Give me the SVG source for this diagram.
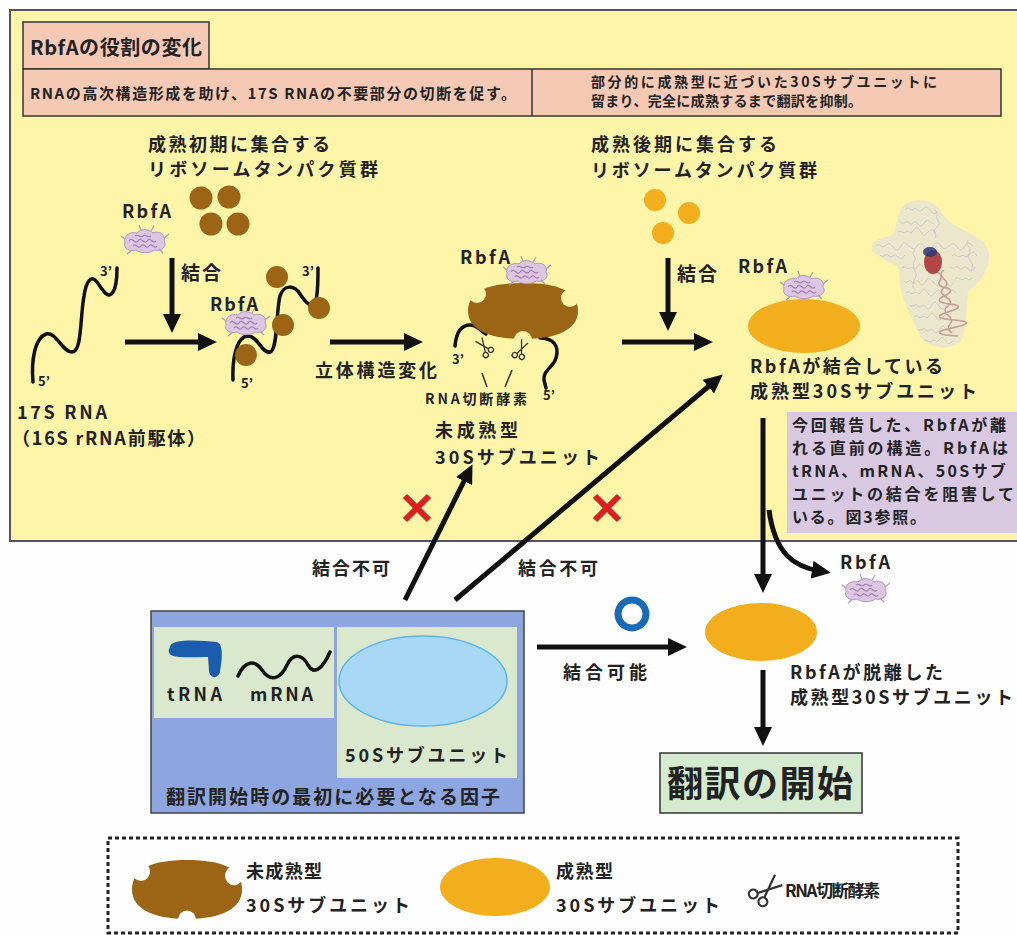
<svg xmlns="http://www.w3.org/2000/svg" xmlns:xlink="http://www.w3.org/1999/xlink" width="1017" height="935" viewBox="0 0 1017 935">
  <style>
    .t { font-family: "Noto Sans CJK JP", "Noto Sans", sans-serif; font-weight: 700; fill: #222; }
    .small { font-size: 13px; }
    .arrow { fill: none; stroke: #111; stroke-width: 5; marker-end: url(#head); }
    .rna { fill: none; stroke: #111; stroke-width: 3.5; stroke-linecap: round; }
    .brown { fill: #9c6415; }
    .gold { fill: #f2ae1d; }
    .cross { stroke: #d91f1f; stroke-width: 6; stroke-linecap: butt; }
  </style>
  <defs>
    <marker id="head" markerUnits="userSpaceOnUse" markerWidth="20" markerHeight="18" refX="8" refY="9" orient="auto">
      <path d="M0,0 L19,9 L0,18 Z" fill="#111"/>
    </marker>
    <!-- bites taken out of the immature 30S subunit -->
    <mask id="bites" maskUnits="userSpaceOnUse" x="-10" y="-10" width="130" height="80">
      <rect x="-10" y="-10" width="130" height="80" fill="#fff"/>
      <circle cx="9" cy="11" r="9" fill="#000"/>
      <circle cx="102" cy="15" r="9" fill="#000"/>
      <circle cx="55" cy="57" r="9" fill="#000"/>
    </mask>
    <g id="imm30S">
      <path class="brown" mask="url(#bites)" d="M0,28 C0,8 20,0 55,0 C90,0 110,8 110,28 C110,46 90,56 55,56 C20,56 0,46 0,28 Z"/>
    </g>
    <!-- RbfA protein cartoon -->
    <g id="rbfa">
      <path d="M-20,2 C-22,-6 -14,-10 -8,-8 C-4,-13 4,-12 8,-8 C14,-11 21,-6 19,0 C23,5 16,11 9,9 C4,13 -5,12 -9,9 C-16,11 -22,7 -20,2 Z" fill="#dcc6e2" stroke="#b895c3" stroke-width="1"/>
      <path d="M-16,0 c3,-5 6,4 9,0 c3,-5 6,4 9,0 c3,-5 6,4 9,0 M-12,5 c3,-4 5,4 8,0 c3,-4 5,4 8,0 c3,-4 5,4 8,0 M-10,-5 c3,-3 5,3 8,0 c3,-3 5,3 8,0" fill="none" stroke="#a47cb0" stroke-width="1.2"/>
      <path d="M-20,-2 l-4,-3 M19,-3 l5,-4 M-4,-11 l-2,-5 M6,-10 l3,-5 M14,8 l4,4 M-14,10 l-4,3" stroke="#b895c3" stroke-width="1.2"/>
    </g>
    <!-- RNA-cutting enzyme (scissors) -->
    <g id="scis" fill="none" stroke="#333" stroke-width="1.3">
      <circle cx="-7" cy="-2" r="2.6"/>
      <circle cx="-5" cy="5" r="2.6"/>
      <path d="M-4.5,-1 L10,3.5 M-3,3.5 L10,-4"/>
    </g>
  </defs>

  <rect x="0" y="0" width="1017" height="935" fill="#fefefe"/>

  <!-- upper panel: change of RbfA role -->
  <g id="panel">
    <rect x="10" y="10" width="1014" height="531" fill="#fef5a8" stroke="#555" stroke-width="2"/>
    <rect x="23" y="22" width="186" height="47" fill="#f6c9b4" stroke="#333" stroke-width="1.5"/>
    <text class="t" x="30" y="55" font-size="20" textLength="172">RbfAの役割の変化</text>
    <rect x="23" y="69" width="978" height="47" fill="#f6c9b4" stroke="#333" stroke-width="1.5"/>
    <line x1="532" y1="69" x2="532" y2="116" stroke="#333" stroke-width="1.5"/>
    <text class="t" x="30" y="99" font-size="15" textLength="486">RNAの高次構造形成を助け、17S RNAの不要部分の切断を促す。</text>
    <text class="t" x="591" y="87" font-size="14" textLength="346">部分的に成熟型に近づいた30Sサブユニットに</text>
    <text class="t" x="591" y="106" font-size="14" textLength="271">留まり、完全に成熟するまで翻訳を抑制。</text>
  </g>

  <!-- early assembling ribosomal proteins -->
  <g id="early-proteins">
    <text class="t" x="148" y="151" font-size="18" textLength="182">成熟初期に集合する</text>
    <text class="t" x="148" y="176" font-size="18" textLength="230">リボソームタンパク質群</text>
    <circle class="brown" cx="201" cy="198" r="11.5"/>
    <circle class="brown" cx="229" cy="197" r="11.5"/>
    <circle class="brown" cx="211" cy="224" r="11.5"/>
    <circle class="brown" cx="238" cy="224" r="11.5"/>
    <text class="t" x="122" y="218" font-size="18" textLength="49">RbfA</text>
    <use href="#rbfa" transform="translate(145,241)"/>
    <text class="t" x="181" y="280" font-size="19" textLength="40">結合</text>
  </g>

  <!-- 17S RNA precursor -->
  <g id="rna17s">
    <path class="rna" d="M33,382 C31,360 35,338 46,334 C56,331 62,352 72,352 C82,352 80,318 84,296 C86,282 91,274 97,282 C103,290 108,300 113,292 C117,286 117,276 117,268"/>
    <text class="t small" x="100" y="276">3’</text>
    <text class="t small" x="38" y="386">5’</text>
    <text class="t" x="17" y="419" font-size="18" textLength="90">17S RNA</text>
    <text class="t" x="12" y="445" font-size="18" textLength="193">（16S rRNA前駆体）</text>
  </g>

  <!-- RNA bound by RbfA and early proteins -->
  <g id="rna-bound">
    <path class="rna" d="M233,380 C232,355 238,336 248,336 C258,336 262,354 270,352 C278,350 276,310 280,296 C284,284 294,285 300,294 C306,303 312,310 316,300 C318,292 318,280 318,268"/>
    <circle class="brown" cx="246" cy="355" r="11"/>
    <circle class="brown" cx="277" cy="277" r="11"/>
    <circle class="brown" cx="283" cy="325" r="11"/>
    <circle class="brown" cx="319" cy="308" r="11"/>
    <use href="#rbfa" transform="translate(246,323)"/>
    <text class="t" x="210" y="311" font-size="18" textLength="48">RbfA</text>
    <text class="t small" x="302" y="276">3’</text>
    <text class="t small" x="241" y="388">5’</text>
  </g>

  <!-- immature 30S subunit -->
  <g id="immature-30s">
    <path class="rna" d="M455,346 C456,335 460,325 470,325 C477,325 480,330 486,334"/>
    <path class="rna" d="M540,338 C552,338 560,345 556,358 C553,368 543,370 544,380 L546,388"/>
    <use href="#imm30S" transform="translate(468,283)"/>
    <use href="#rbfa" transform="translate(527,272)"/>
    <text class="t" x="460" y="264" font-size="18" textLength="50">RbfA</text>
    <use href="#scis" transform="translate(484,348) rotate(-120)"/>
    <use href="#scis" transform="translate(520,350) rotate(-60)"/>
    <line x1="482" y1="373" x2="487" y2="387" stroke="#333" stroke-width="1.5"/>
    <line x1="512" y1="370" x2="505" y2="387" stroke="#333" stroke-width="1.5"/>
    <text class="t small" x="452" y="364">3’</text>
    <text class="t small" x="543" y="400">5’</text>
    <text class="t" x="425" y="404" font-size="14" textLength="102">RNA切断酵素</text>
    <text class="t" x="435" y="437" font-size="18" textLength="83">未成熟型</text>
    <text class="t" x="435" y="464" font-size="18" textLength="165">30Sサブユニット</text>
  </g>

  <!-- late assembling ribosomal proteins -->
  <g id="late-proteins">
    <text class="t" x="591" y="151" font-size="18" textLength="186">成熟後期に集合する</text>
    <text class="t" x="591" y="177" font-size="18" textLength="226">リボソームタンパク質群</text>
    <circle class="gold" cx="655" cy="200" r="11"/>
    <circle class="gold" cx="689" cy="213" r="11"/>
    <circle class="gold" cx="663" cy="233" r="11"/>
    <text class="t" x="677" y="281" font-size="19" textLength="40">結合</text>
  </g>

  <!-- mature 30S with RbfA bound -->
  <g id="mature-30s-rbfa">
    <ellipse class="gold" cx="804" cy="326" rx="56" ry="27"/>
    <use href="#rbfa" transform="translate(804,287)"/>
    <text class="t" x="738" y="273" font-size="18" textLength="49">RbfA</text>
    <text class="t" x="750" y="373" font-size="18" textLength="193">RbfAが結合している</text>
    <text class="t" x="750" y="398" font-size="18" textLength="227">成熟型30Sサブユニット</text>
  </g>

  <!-- atomic structure of the 30S–RbfA complex -->
  <g id="structure">
    <path fill="#dedee4" opacity="0.6" d="M907,203 C918,198 930,200 936,206 C942,212 944,217 950,222 C958,228 968,232 978,238 C990,245 992,258 986,270 C982,280 975,285 968,292 C966,305 967,320 963,337 C960,345 948,349 938,347 C928,345 921,340 918,332 C912,318 905,305 902,295 C899,285 900,275 898,266 C888,262 876,256 872,250 C870,243 878,238 890,236 C896,233 895,225 898,218 C900,210 902,206 907,203 Z"/>
    <g fill="none" stroke="#c0c0c8" stroke-width="0.9" opacity="0.85">
      <path d="M905,210 c3,-5 6,2 9,-1 s4,5 8,1 s5,-4 8,0 s3,5 7,2 M900,222 c3,4 6,-3 9,1 s5,-4 8,0 s4,4 8,-1 s5,3 9,1 M898,232 c3,-3 5,3 8,0 s4,4 7,-1 s5,-4 8,1 s3,4 7,0 s4,-3 8,1"/>
      <path d="M876,246 c3,-4 6,3 9,0 s4,-4 8,1 s5,4 8,-1 s3,-4 8,0 s5,4 8,0 s4,-3 8,1 s4,4 8,-1 s5,-4 8,0 s4,3 8,0 s4,-4 8,1 s4,4 8,-1 s4,-3 8,0 M880,255 c3,4 6,-3 9,1 s5,-4 8,0 s4,4 8,-1"/>
      <path d="M952,256 c3,-4 6,3 9,0 s4,4 8,-1 s5,-3 8,1 M950,267 c3,4 6,-3 9,1 s4,-4 8,0 s5,4 8,-1 M955,279 c3,-4 6,3 9,0 s4,4 8,-1"/>
      <path d="M902,268 c3,-4 5,3 8,0 s4,4 7,-1 s3,-3 7,1 M904,281 c3,4 5,-3 8,1 s4,-4 7,0 s4,4 7,-1 s3,-3 7,1 s4,4 7,0 s4,-3 7,1 s4,4 7,-1 M906,293 c3,-4 5,3 8,0 s4,4 7,-1 s4,-3 7,1 s3,4 7,0 s4,-4 7,1 s4,4 7,-1 s4,-3 7,0"/>
      <path d="M910,305 c3,4 5,-3 8,1 s4,-4 7,0 s4,4 7,-1 s3,-3 7,1 s4,4 7,0 s4,-3 7,1 M914,317 c3,-4 5,3 8,0 s4,4 7,-1 s4,-3 7,1 s3,4 7,0 s4,-4 7,1 M918,329 c3,4 5,-3 8,1 s4,-4 7,0 s4,4 7,-1 s3,-3 7,1 s4,4 7,0 M924,341 c3,-3 5,3 8,0 s4,3 7,-1 s4,-3 7,1 s3,3 7,0"/>
      <path d="M935,210 c5,3 0,6 2,9 s4,5 -1,9 s2,6 -1,10 M968,240 c-4,6 3,6 2,10 s-3,6 0,10 s3,6 1,10 M915,250 c-5,4 1,6 0,9 s-3,6 -1,10 s3,5 1,10 s-3,6 -1,10"/>
    </g>
    <path fill="none" stroke="#c99a92" stroke-width="1.5" d="M936,272 q8,2 4,8 t6,8 t-2,8 t6,8 t-2,8 t6,8 t-2,8 t6,8 M944,270 q-6,4 0,9 t0,9 t2,9 t2,9 t0,9 t2,9 t2,9"/>
    <ellipse cx="933" cy="262" rx="9" ry="12" fill="#a8282e" opacity="0.85"/>
    <ellipse cx="930" cy="252" rx="7" ry="5" fill="#2b3a7a" opacity="0.85"/>
  </g>

  <!-- structure description -->
  <g id="note">
    <rect x="787" y="412" width="232" height="121" fill="#d8c8e1"/>
    <text class="t" x="792" y="431" font-size="16" textLength="214">今回報告した、RbfAが離</text>
    <text class="t" x="792" y="454" font-size="16" textLength="216">れる直前の構造。RbfAは</text>
    <text class="t" x="792" y="477" font-size="16" textLength="214">tRNA、mRNA、50Sサブ</text>
    <text class="t" x="792" y="500" font-size="16" textLength="222">ユニットの結合を阻害して</text>
    <text class="t" x="792" y="523" font-size="16" textLength="134">いる。図3参照。</text>
  </g>

  <!-- released RbfA -->
  <g id="rbfa-released">
    <text class="t" x="840" y="569" font-size="18" textLength="50">RbfA</text>
    <use href="#rbfa" transform="translate(866,590)"/>
  </g>

  <!-- mature 30S after RbfA release -->
  <g id="mature-30s">
    <ellipse class="gold" cx="761" cy="632" rx="56" ry="29"/>
    <text class="t" x="790" y="679" font-size="18" textLength="153">RbfAが脱離した</text>
    <text class="t" x="790" y="704" font-size="18" textLength="223">成熟型30Sサブユニット</text>
  </g>

  <!-- initiation factors -->
  <g id="factors">
    <rect x="151" y="611" width="373" height="202" fill="#8ea6df" stroke="#444" stroke-width="1.5"/>
    <rect x="154" y="627" width="180" height="91" fill="#dae8ce"/>
    <rect x="337" y="627" width="180" height="151" fill="#dae8ce"/>
    <path fill="#1b5cad" d="M170,647 C170,640 190,640 205,641 L217,642 C224,645 222,660 220,672 C218,679 210,679 209,671 L208,657 C195,657 180,658 173,656 C168,654 168,650 170,647 Z"/>
    <path class="rna" stroke-width="3" d="M238,676 C245,660 255,660 262,670 C270,682 280,680 287,665 C293,652 303,655 308,665 C314,675 322,670 330,652"/>
    <text class="t" x="167" y="701" font-size="18" textLength="55">tRNA</text>
    <text class="t" x="250" y="701" font-size="18" textLength="63">mRNA</text>
    <ellipse cx="423" cy="681" rx="84" ry="45" fill="#a9d8f7" stroke="#5cb6e8" stroke-width="1.5"/>
    <text class="t" x="345" y="762" font-size="18" textLength="163">50Sサブユニット</text>
    <text class="t" x="166" y="804" font-size="19" textLength="334">翻訳開始時の最初に必要となる因子</text>
  </g>

  <!-- start of translation -->
  <g id="translation">
    <rect x="660" y="753" width="202" height="60" fill="#d5ebcf" stroke="#333" stroke-width="1.5"/>
    <text class="t" x="667" y="797" font-size="36" textLength="186">翻訳の開始</text>
  </g>

  <!-- connectors -->
  <g id="connectors">
    <line class="arrow" x1="172" y1="258" x2="172" y2="322"/>
    <line class="arrow" x1="125" y1="342" x2="206" y2="342"/>
    <line class="arrow" x1="330" y1="342" x2="412" y2="342"/>
    <text class="t" x="315" y="377" font-size="18" textLength="122">立体構造変化</text>
    <line class="arrow" x1="622" y1="342" x2="702" y2="342"/>
    <line class="arrow" x1="668" y1="258" x2="668" y2="320"/>
    <line class="arrow" x1="405" y1="600" x2="467.6" y2="474"/>
    <line class="arrow" x1="455" y1="600" x2="714.4" y2="381.5"/>
    <line class="arrow" x1="763" y1="418" x2="763" y2="582"/>
    <path class="arrow" d="M769,510 C775,555 795,567 820,571"/>
    <line class="arrow" x1="537" y1="647" x2="676" y2="647"/>
    <line class="arrow" x1="763" y1="670" x2="763" y2="735"/>
    <path class="cross" d="M405,496 L429,520 M429,496 L405,520"/>
    <path class="cross" d="M595,496 L619,520 M619,496 L595,520"/>
    <text class="t" x="312" y="575" font-size="18" textLength="78">結合不可</text>
    <text class="t" x="518" y="575" font-size="18" textLength="80">結合不可</text>
    <circle cx="632" cy="614" r="14" fill="none" stroke="#1a6bb5" stroke-width="7"/>
    <text class="t" x="563" y="679" font-size="18" textLength="84">結合可能</text>
  </g>

  <!-- legend -->
  <g id="legend">
    <rect x="108" y="838" width="850" height="95" fill="none" stroke="#222" stroke-width="3" stroke-dasharray="4 3"/>
    <use href="#imm30S" transform="translate(132,860) scale(1,1.05)"/>
    <text class="t" x="246" y="878" font-size="18" textLength="76">未成熟型</text>
    <text class="t" x="246" y="912" font-size="18" textLength="164">30Sサブユニット</text>
    <ellipse class="gold" cx="495" cy="887" rx="55" ry="29"/>
    <text class="t" x="556" y="878" font-size="18" textLength="57">成熟型</text>
    <text class="t" x="556" y="912" font-size="18" textLength="164">30Sサブユニット</text>
    <use href="#scis" transform="translate(765,890) rotate(-35) scale(1.7)"/>
    <text class="t" x="785" y="897" font-size="17" textLength="95">RNA切断酵素</text>
  </g>
</svg>
